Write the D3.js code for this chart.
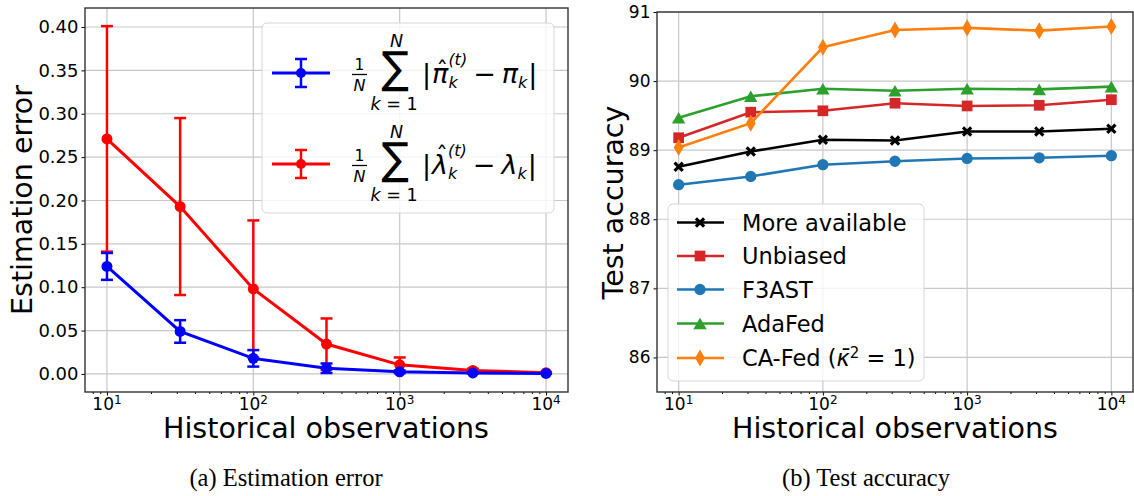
<!DOCTYPE html>
<html>
<head>
<meta charset="utf-8">
<script src="https://cdn.jsdelivr.net/npm/d3@7"></script>
<style>
  body { margin: 0; background: #fff; }
  svg { font-family: "DejaVu Sans", sans-serif; }
</style>
</head>
<body>
<script>
// historical observations (x axis of both panels)
const obs = [10, 31.62, 100, 316.2, 1000, 3162, 10000];

// panel (a): estimation error, mean and spread
const piErr  = [0.124, 0.049, 0.018, 0.0066, 0.0025, 0.0012, 0.0006];
const piStd  = [0.0155, 0.0130, 0.0095, 0.0055, 0.0015, 0.0006, 0.0003];
const lamErr = [0.271, 0.193, 0.098, 0.0345, 0.0105, 0.0040, 0.0015];
const lamStd = [0.130, 0.102, 0.079, 0.0295, 0.0085, 0.0020, 0.0008];
const errTicks = [0, 0.05, 0.10, 0.15, 0.20, 0.25, 0.30, 0.35, 0.40];

// panel (b): test accuracy
const moreAvail = [88.76, 88.98, 89.15, 89.14, 89.27, 89.27, 89.31];
const unbiased  = [89.18, 89.55, 89.57, 89.68, 89.64, 89.65, 89.73];
const f3ast     = [88.50, 88.62, 88.79, 88.84, 88.88, 88.89, 88.92];
const adafed    = [89.47, 89.78, 89.89, 89.86, 89.89, 89.88, 89.92];
const cafed     = [89.04, 89.39, 90.49, 90.74, 90.77, 90.73, 90.79];
const accTicks  = [86, 87, 88, 89, 90, 91];

const decades = [10, 100, 1000, 10000];
const minors = [];
[1, 10, 100, 1000, 10000].forEach(d => { for (let m = 2; m < 10; m++) minors.push(d * m); });

const svg = d3.select("body").append("svg")
  .attr("width", 1134).attr("height", 496);

function panel(x0, x1, y0, y1, yDomain) {
  const x = d3.scaleLog().domain([Math.pow(10, 0.85), Math.pow(10, 4.15)]).range([x0, x1]);
  const y = d3.scaleLinear().domain(yDomain).range([y1, y0]);
  return {x, y, x0, x1, y0, y1};
}

function drawFrame(p, yTicks, yFmt, yFont) {
  const g = svg.append("g");
  // grid
  g.selectAll(".gx").data(decades).enter().append("line")
    .attr("x1", d => p.x(d)).attr("x2", d => p.x(d))
    .attr("y1", p.y0).attr("y2", p.y1)
    .attr("stroke", "#c8c8c8").attr("stroke-width", 1.2);
  g.selectAll(".gy").data(yTicks).enter().append("line")
    .attr("x1", p.x0).attr("x2", p.x1)
    .attr("y1", d => p.y(d)).attr("y2", d => p.y(d))
    .attr("stroke", "#c8c8c8").attr("stroke-width", 1.2);

  // y axis
  const ya = svg.append("g").attr("transform", `translate(${p.x0},0)`)
    .call(d3.axisLeft(p.y).tickValues(yTicks).tickFormat(yFmt).tickSize(3.5).tickPadding(3));
  ya.select(".domain").remove();
  ya.selectAll("text").style("font-size", yFont + "px").style("font-family", "DejaVu Sans").attr("fill", "#000");

  // x axis: minor + major ticks
  const xm = svg.append("g").attr("transform", `translate(0,${p.y1})`)
    .call(d3.axisBottom(p.x).tickValues(minors.filter(v => p.x.domain()[0] <= v && v <= p.x.domain()[1])).tickFormat("").tickSize(2));
  xm.select(".domain").remove();
  const xa = svg.append("g").attr("transform", `translate(0,${p.y1})`)
    .call(d3.axisBottom(p.x).tickValues(decades).tickFormat("").tickSize(3.5));
  xa.select(".domain").remove();

  const lab = svg.append("g").selectAll("text").data(decades).enter().append("text")
    .attr("x", d => p.x(d)).attr("y", 410)
    .attr("text-anchor", "middle").style("font-size", "17px");
  lab.append("tspan").text("10");
  lab.append("tspan").attr("dy", -6).style("font-size", "12px").text(d => Math.round(Math.log10(d)));

  return g;
}

function drawSpines(p) {
  svg.append("rect").attr("x", p.x0).attr("y", p.y0)
    .attr("width", p.x1 - p.x0).attr("height", p.y1 - p.y0)
    .attr("fill", "none").attr("stroke", "#333").attr("stroke-width", 1.4);
}

// ---------- panel (a) ----------
const pa = panel(85, 568, 8, 392, [-0.0208, 0.4219]);
drawFrame(pa, errTicks, d3.format(".2f"), 18);

function errSeries(mean, sd, color) {
  const g = svg.append("g");
  const line = d3.line().x((d, i) => pa.x(obs[i])).y(d => pa.y(d));
  g.append("path").datum(mean).attr("d", line)
    .attr("fill", "none").attr("stroke", color).attr("stroke-width", 3);
  const bars = g.selectAll(".eb").data(mean).enter().append("g");
  bars.append("line")
    .attr("x1", (d, i) => pa.x(obs[i])).attr("x2", (d, i) => pa.x(obs[i]))
    .attr("y1", (d, i) => pa.y(d - sd[i])).attr("y2", (d, i) => pa.y(d + sd[i]))
    .attr("stroke", color).attr("stroke-width", 2.5);
  [-1, 1].forEach(s => {
    bars.append("line")
      .attr("x1", (d, i) => pa.x(obs[i]) - 6).attr("x2", (d, i) => pa.x(obs[i]) + 6)
      .attr("y1", (d, i) => pa.y(d + s * sd[i])).attr("y2", (d, i) => pa.y(d + s * sd[i]))
      .attr("stroke", color).attr("stroke-width", 2.5);
  });
  g.selectAll(".pt").data(mean).enter().append("circle")
    .attr("cx", (d, i) => pa.x(obs[i])).attr("cy", d => pa.y(d))
    .attr("r", 5.5).attr("fill", color);
}
errSeries(lamErr, lamStd, "#ff0000");
errSeries(piErr, piStd, "#0000ff");
drawSpines(pa);

// legend (a)
svg.append("rect").attr("x", 262).attr("y", 23).attr("width", 292).attr("height", 190)
  .attr("rx", 5).attr("fill", "#fff").attr("fill-opacity", 0.8)
  .attr("stroke", "#d6d6d6").attr("stroke-width", 1);

function legendMath(yc, color, sym) {
  const g = svg.append("g");
  g.append("line").attr("x1", 272).attr("x2", 330).attr("y1", yc).attr("y2", yc)
    .attr("stroke", color).attr("stroke-width", 3);
  g.append("line").attr("x1", 301).attr("x2", 301).attr("y1", yc - 14).attr("y2", yc + 14)
    .attr("stroke", color).attr("stroke-width", 2.5);
  [-14, 14].forEach(o => g.append("line").attr("x1", 295).attr("x2", 307)
    .attr("y1", yc + o).attr("y2", yc + o).attr("stroke", color).attr("stroke-width", 2.5));
  g.append("circle").attr("cx", 301).attr("cy", yc).attr("r", 5).attr("fill", color);

  const t = (x, y, s, size, it, anchor) => g.append("text").attr("x", x).attr("y", y)
    .attr("text-anchor", anchor || "start").style("font-size", size + "px")
    .style("font-style", it ? "italic" : "normal").text(s);

  // fraction 1/N
  t(359.5, yc - 3, "1", 15.5, false, "middle");
  g.append("line").attr("x1", 352).attr("x2", 367).attr("y1", yc + 1.5).attr("y2", yc + 1.5)
    .attr("stroke", "#000").attr("stroke-width", 1.3);
  t(359.5, yc + 18, "N", 16, true, "middle");
  // sum with limits
  g.append("text").attr("transform", `translate(395,${yc + 10}) scale(1.02,1.1)`)
    .attr("text-anchor", "middle").style("font-size", "40px").text("\u2211");
  t(396.5, yc - 26, "N", 17.5, true, "middle");
  const lim = g.append("text").attr("x", 394).attr("y", yc + 37).attr("text-anchor", "middle").style("font-size", "17.5px");
  lim.append("tspan").style("font-style", "italic").text("k");
  lim.append("tspan").text(" = 1");

  // |hat(sym)_k^(t) - sym_k|
  let cx = 422;
  const base = yc + 10;
  let e = t(cx, base, "|", 27, false); cx += e.node().getComputedTextLength() + 1;
  e = t(cx, base, sym, 27, true);
  const w = e.node().getComputedTextLength();
  t(cx + w / 2 + 2, base - (sym === "\u03bb" ? 10 : 4), "\u02c6", 24, false, "middle");
  cx += w;
  const sup = t(cx, base - 18, "(t)", 16, true);
  const sub = t(cx, base + 5, "k", 16, true);
  cx += Math.max(sup.node().getComputedTextLength(), sub.node().getComputedTextLength()) + 6;
  e = t(cx, base, "\u2212", 27, false); cx += e.node().getComputedTextLength() + 6;
  e = t(cx, base, sym, 27, true); cx += e.node().getComputedTextLength();
  e = t(cx, base + 5, "k", 16, true); cx += e.node().getComputedTextLength() + 1;
  t(cx, base, "|", 27, false);
}
legendMath(73, "#0000ff", "\u03c0");
legendMath(164, "#ff0000", "\u03bb");

svg.append("text").attr("x", 326).attr("y", 437.5).attr("text-anchor", "middle")
  .style("font-size", "28.5px").text("Historical observations");
svg.append("text").attr("transform", "translate(32,200) rotate(-90)").attr("text-anchor", "middle")
  .style("font-size", "28.5px").text("Estimation error");

// ---------- panel (b) ----------
const pb = panel(657, 1133, 12, 392, [85.5, 91]);
drawFrame(pb, accTicks, d3.format("d"), 17);

const X_PATH = (() => { const p = d3.path(); const a = 5.2, b = 2.2;
  // filled "X" marker
  const pts = [[-a, -a + b], [-a + b, -a], [0, -b], [a - b, -a], [a, -a + b], [b, 0],
               [a, a - b], [a - b, a], [0, b], [-a + b, a], [-a, a - b], [-b, 0]];
  p.moveTo(pts[0][0], pts[0][1]); pts.slice(1).forEach(q => p.lineTo(q[0], q[1])); p.closePath();
  return p.toString(); })();

const series = [
  {name: "More available", vals: moreAvail, color: "#000000", marker: "x"},
  {name: "Unbiased", vals: unbiased, color: "#d62728", marker: "s"},
  {name: "F3AST", vals: f3ast, color: "#1f77b4", marker: "o"},
  {name: "AdaFed", vals: adafed, color: "#2ca02c", marker: "^"},
  {name: "CA-Fed", vals: cafed, color: "#ff7f0e", marker: "d"}
];

function markerPath(m) {
  if (m === "x") return X_PATH;
  if (m === "s") return d3.symbol(d3.symbolSquare, 115)();
  if (m === "o") return d3.symbol(d3.symbolCircle, 100)();
  if (m === "^") return d3.symbol(d3.symbolTriangle, 78)();
  return d3.symbol(d3.symbolDiamond, 84)();
}
function markerShift(m) {
  // center the triangle on its bounding box like matplotlib
  if (m === "^") return Math.sqrt(78 / (Math.sqrt(3) * 3)) / 2;
  return 0;
}

const lineB = d3.line().x((d, i) => pb.x(obs[i])).y(d => pb.y(d));
series.forEach(s => {
  const g = svg.append("g");
  g.append("path").datum(s.vals).attr("d", lineB)
    .attr("fill", "none").attr("stroke", s.color).attr("stroke-width", 2.6);
  g.selectAll("path.m").data(s.vals).enter().append("path").attr("class", "m")
    .attr("d", markerPath(s.marker))
    .attr("transform", (d, i) => `translate(${pb.x(obs[i])},${pb.y(d) + markerShift(s.marker)})`)
    .attr("fill", s.color);
});
drawSpines(pb);

// legend (b)
svg.append("rect").attr("x", 668).attr("y", 204).attr("width", 256).attr("height", 177)
  .attr("rx", 5).attr("fill", "#fff").attr("fill-opacity", 0.8)
  .attr("stroke", "#d6d6d6").attr("stroke-width", 1);
const legY = [222.5, 256, 289.5, 323.5, 358];
series.forEach((s, i) => {
  const y = legY[i];
  svg.append("line").attr("x1", 677).attr("x2", 724).attr("y1", y).attr("y2", y)
    .attr("stroke", s.color).attr("stroke-width", 2.6);
  svg.append("path").attr("d", markerPath(s.marker))
    .attr("transform", `translate(700,${y + markerShift(s.marker)})`).attr("fill", s.color);
  const tx = svg.append("text").attr("x", 742).attr("y", y + 8).style("font-size", "22.5px");
  if (s.marker === "d") {
    tx.append("tspan").text("CA-Fed (");
    tx.append("tspan").style("font-style", "italic").text("\u03ba\u0304");
    tx.append("tspan").attr("dy", -8).style("font-size", "15px").text("2");
    tx.append("tspan").attr("dy", 8).text(" = 1)");
  } else {
    tx.text(s.name);
  }
});

svg.append("text").attr("x", 895).attr("y", 437.5).attr("text-anchor", "middle")
  .style("font-size", "28.5px").text("Historical observations");
svg.append("text").attr("transform", "translate(623,202.5) rotate(-90)").attr("text-anchor", "middle")
  .style("font-size", "28.5px").text("Test accuracy");

// captions
svg.append("text").attr("x", 286).attr("y", 486).attr("text-anchor", "middle")
  .style("font-family", "Liberation Serif").style("font-size", "24.5px").text("(a) Estimation error");
svg.append("text").attr("x", 866).attr("y", 486).attr("text-anchor", "middle")
  .style("font-family", "Liberation Serif").style("font-size", "24.5px").text("(b) Test accuracy");
</script>
</body>
</html>
